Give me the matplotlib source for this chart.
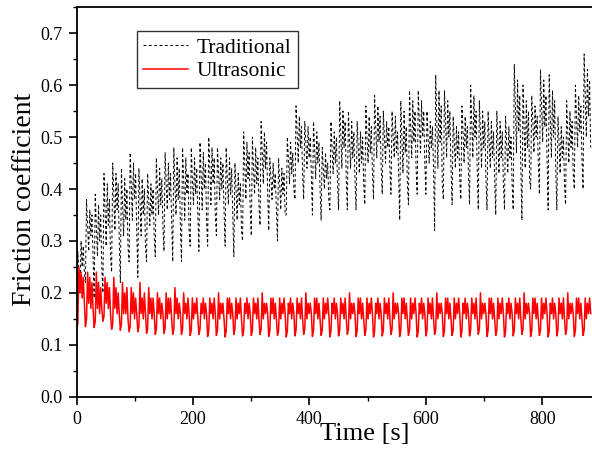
import numpy as np
import matplotlib.pyplot as plt
from matplotlib.ticker import MultipleLocator, FormatStrFormatter

plt.rcParams['font.family'] = ['Liberation Serif', 'DejaVu Serif']

step = 15.0 / 8  # seconds between samples, 8 samples per stroke cycle

# friction coefficient, one row per cycle (~15 s)
trad_cycles = [
    [.10, .28, .24, .20, .30, .25, .29, .24],
    [.22, .38, .33, .28, .36, .31, .35, .27],
    [.19, .39, .33, .27, .37, .30, .35, .25],
    [.20, .43, .36, .29, .41, .33, .38, .27],
    [.24, .45, .39, .32, .43, .36, .41, .30],
    [.22, .44, .37, .31, .42, .34, .40, .29],
    [.26, .47, .41, .34, .45, .38, .43, .32],
    [.23, .44, .38, .31, .42, .35, .40, .29],
    [.26, .43, .38, .33, .41, .35, .40, .31],
    [.27, .46, .40, .35, .44, .37, .42, .33],
    [.28, .47, .41, .36, .45, .38, .43, .34],
    [.26, .48, .41, .35, .46, .38, .44, .33],
    [.26, .48, .42, .34, .46, .39, .43, .32],
    [.29, .48, .42, .37, .46, .39, .44, .35],
    [.28, .49, .43, .36, .47, .40, .45, .34],
    [.29, .50, .44, .37, .48, .41, .46, .35],
    [.31, .48, .43, .38, .46, .40, .45, .36],
    [.29, .48, .42, .37, .46, .39, .44, .35],
    [.27, .45, .40, .34, .43, .37, .41, .32],
    [.30, .51, .45, .38, .49, .42, .47, .36],
    [.31, .50, .44, .39, .48, .41, .46, .37],
    [.33, .53, .47, .41, .51, .44, .49, .39],
    [.32, .46, .42, .38, .45, .40, .43, .36],
    [.30, .46, .41, .36, .44, .39, .43, .35],
    [.35, .50, .46, .41, .49, .43, .47, .40],
    [.38, .56, .51, .45, .54, .48, .52, .43],
    [.38, .53, .49, .44, .52, .46, .50, .43],
    [.35, .53, .48, .42, .51, .45, .49, .40],
    [.34, .48, .44, .40, .47, .42, .45, .38],
    [.36, .53, .48, .43, .51, .45, .50, .41],
    [.36, .57, .51, .44, .55, .48, .53, .42],
    [.36, .55, .49, .44, .53, .46, .51, .42],
    [.36, .53, .48, .43, .51, .45, .50, .41],
    [.37, .56, .50, .45, .54, .47, .52, .43],
    [.38, .58, .52, .46, .56, .49, .54, .44],
    [.39, .55, .50, .45, .53, .48, .52, .44],
    [.39, .55, .50, .46, .54, .47, .51, .43],
    [.34, .57, .50, .43, .55, .47, .52, .41],
    [.37, .59, .52, .46, .57, .49, .55, .44],
    [.39, .59, .53, .47, .57, .50, .55, .45],
    [.39, .55, .50, .45, .53, .48, .52, .44],
    [.32, .62, .53, .44, .59, .49, .56, .41],
    [.38, .59, .53, .46, .57, .50, .55, .44],
    [.37, .54, .49, .44, .52, .46, .51, .42],
    [.38, .56, .51, .45, .54, .48, .52, .43],
    [.37, .60, .53, .46, .58, .50, .55, .44],
    [.36, .57, .51, .44, .55, .48, .53, .42],
    [.36, .55, .49, .44, .53, .46, .51, .42],
    [.35, .55, .49, .43, .53, .46, .51, .41],
    [.36, .54, .49, .43, .52, .46, .50, .41],
    [.36, .64, .56, .47, .61, .51, .58, .44],
    [.34, .60, .52, .44, .57, .48, .55, .42],
    [.40, .58, .53, .47, .56, .50, .54, .45],
    [.39, .63, .56, .49, .61, .52, .58, .46],
    [.36, .62, .54, .46, .59, .50, .57, .44],
    [.36, .54, .49, .43, .52, .46, .50, .41],
    [.37, .57, .51, .45, .55, .48, .53, .43],
    [.40, .60, .54, .48, .58, .51, .56, .46],
    [.40, .66, .58, .50, .63, .54, .61, .48],
]

ultra_cycles = [
    [.13, .14, .25, .20, .24, .19, .23, .18],
    [.135, .15, .24, .18, .23, .17, .22, .17],
    [.133, .145, .24, .17, .22, .16, .21, .17],
    [.145, .155, .23, .18, .22, .17, .21, .16],
    [.13, .14, .23, .17, .21, .16, .20, .16],
    [.128, .14, .22, .16, .20, .16, .21, .15],
    [.125, .135, .21, .16, .20, .15, .19, .16],
    [.125, .135, .22, .16, .19, .15, .20, .16],
    [.122, .132, .21, .16, .19, .15, .19, .16],
    [.12, .13, .20, .16, .19, .15, .18, .16],
    [.122, .132, .20, .15, .19, .16, .19, .15],
    [.12, .13, .21, .16, .19, .15, .18, .16],
    [.12, .13, .20, .16, .18, .15, .19, .16],
    [.118, .128, .19, .15, .18, .16, .19, .15],
    [.12, .13, .18, .16, .19, .15, .18, .16],
    [.116, .127, .19, .16, .18, .15, .19, .16],
    [.118, .128, .20, .15, .18, .16, .18, .15],
    [.115, .126, .19, .16, .19, .15, .18, .16],
    [.12, .13, .19, .15, .18, .16, .19, .15],
    [.117, .128, .18, .16, .19, .15, .18, .16],
    [.118, .128, .19, .16, .18, .15, .19, .15],
    [.12, .13, .20, .15, .18, .16, .18, .16],
    [.116, .127, .19, .16, .19, .15, .18, .15],
    [.118, .128, .19, .15, .18, .16, .19, .16],
    [.115, .126, .18, .16, .19, .15, .18, .16],
    [.117, .128, .19, .16, .18, .15, .19, .15],
    [.12, .13, .20, .15, .18, .16, .18, .16],
    [.116, .127, .19, .16, .19, .15, .18, .15],
    [.118, .128, .19, .15, .18, .16, .19, .16],
    [.115, .126, .18, .16, .19, .15, .18, .16],
    [.117, .128, .19, .16, .18, .15, .19, .15],
    [.12, .13, .20, .15, .18, .16, .18, .16],
    [.116, .127, .19, .16, .19, .15, .18, .15],
    [.118, .128, .19, .15, .18, .16, .19, .16],
    [.115, .126, .18, .16, .19, .15, .18, .16],
    [.117, .128, .19, .16, .18, .15, .19, .15],
    [.12, .13, .20, .15, .18, .16, .18, .16],
    [.116, .127, .19, .16, .19, .15, .18, .15],
    [.118, .128, .19, .15, .18, .16, .19, .16],
    [.115, .126, .18, .16, .19, .15, .18, .16],
    [.117, .128, .19, .16, .18, .15, .19, .15],
    [.12, .13, .20, .15, .18, .16, .18, .16],
    [.116, .127, .19, .16, .19, .15, .18, .15],
    [.118, .128, .19, .15, .18, .16, .19, .16],
    [.115, .126, .18, .16, .19, .15, .18, .16],
    [.117, .128, .19, .16, .18, .15, .19, .15],
    [.12, .13, .20, .15, .18, .16, .18, .16],
    [.116, .127, .19, .16, .19, .15, .18, .15],
    [.118, .128, .19, .15, .18, .16, .19, .16],
    [.115, .126, .18, .16, .19, .15, .18, .16],
    [.117, .128, .19, .16, .18, .15, .19, .15],
    [.12, .13, .20, .15, .18, .16, .18, .16],
    [.116, .127, .19, .16, .19, .15, .18, .15],
    [.118, .128, .19, .15, .18, .16, .19, .16],
    [.115, .126, .18, .16, .19, .15, .18, .16],
    [.117, .128, .19, .16, .18, .15, .19, .15],
    [.12, .13, .20, .15, .18, .16, .18, .16],
    [.116, .127, .19, .16, .19, .15, .18, .15],
    [.118, .128, .19, .15, .18, .16, .19, .16],
]

trad = np.array(trad_cycles).ravel()
ultra = np.array(ultra_cycles).ravel()
t = np.arange(len(trad)) * step

fig = plt.figure(figsize=(5.92, 4.51), dpi=100)
# the original picture is cropped at the right, so the axes run to the edge
ax = fig.add_axes([76.7 / 592, 54.3 / 451, 515.3 / 592, 389.4 / 451])

ax.plot(t, trad, color='black', lw=0.7, dashes=(3, 2.5), label='Traditional')
ax.plot(t, ultra, color='red', lw=1.1, label='Ultrasonic')

ax.set_xlim(0, 885.4)
ax.set_ylim(0, 0.75)
ax.xaxis.set_major_locator(MultipleLocator(200))
ax.xaxis.set_minor_locator(MultipleLocator(100))
ax.yaxis.set_major_locator(MultipleLocator(0.1))
ax.yaxis.set_minor_locator(MultipleLocator(0.05))
ax.yaxis.set_major_formatter(FormatStrFormatter('%.1f'))

for sp in ax.spines.values():
    sp.set_linewidth(1.3)
ax.spines['right'].set_visible(False)
ax.tick_params(which='major', direction='out', length=6, width=1.2, labelsize=13, pad=4)
ax.tick_params(which='minor', direction='out', length=3, width=1.0)

ax.set_xlabel('Time [s]', fontsize=19)
ax.set_ylabel('Friction coefficient', fontsize=20)
ax.xaxis.set_label_coords(0.559, -0.0675)
ax.yaxis.set_label_coords(-0.078, 0.506)

leg = ax.legend(loc='upper left', bbox_to_anchor=(0.1165, 0.938), borderaxespad=0,
                fancybox=False, edgecolor='#333333', fontsize=15.5, handlelength=2.1,
                labelspacing=0.15, borderpad=0.3, handletextpad=0.4, framealpha=1)
leg.get_frame().set_linewidth(1.0)

fig.savefig('out.png', dpi=100)
